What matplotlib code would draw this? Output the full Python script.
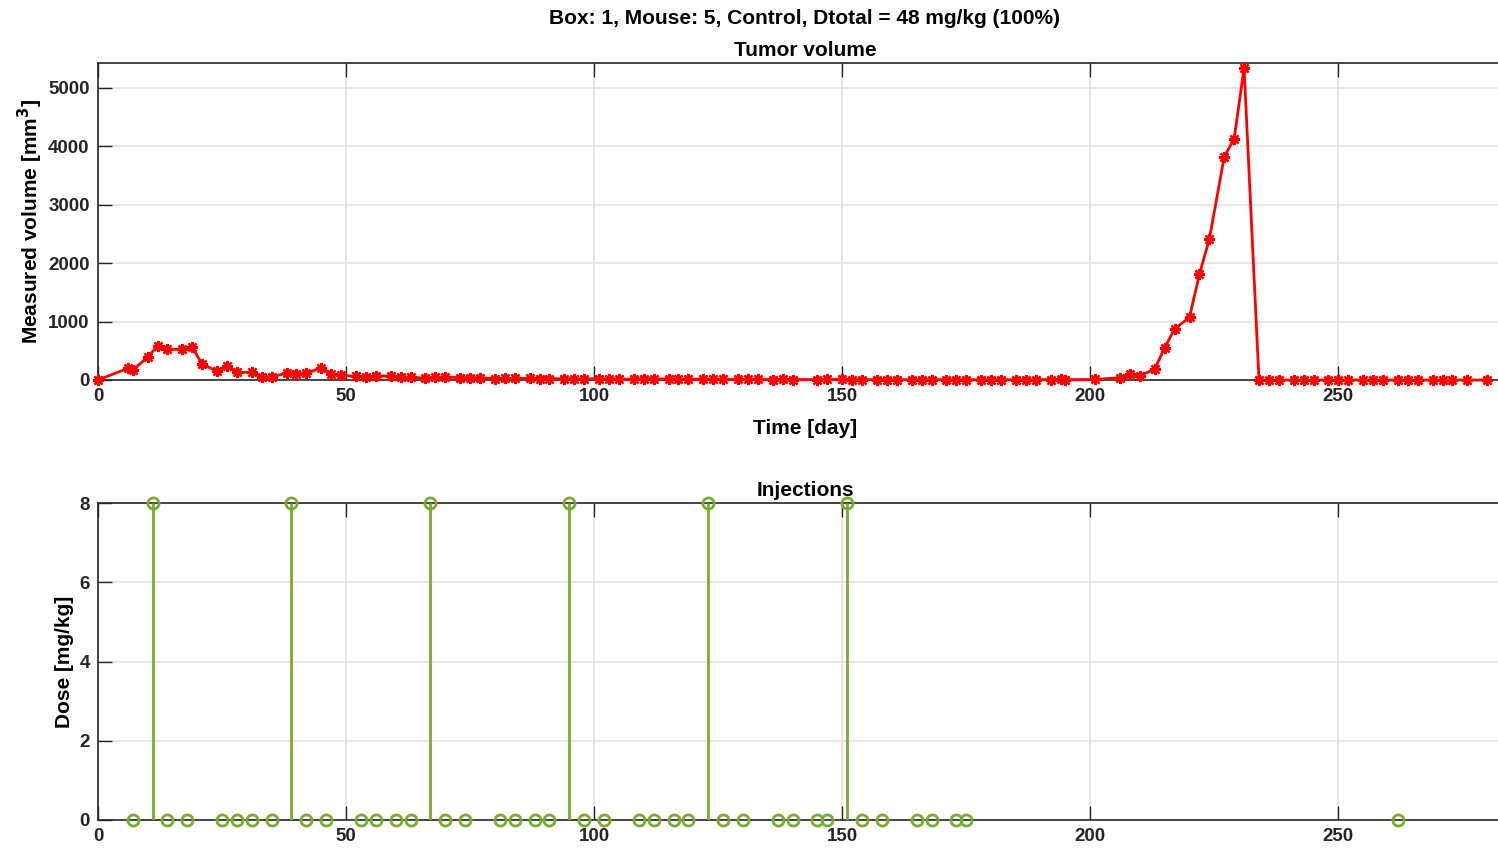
import matplotlib
matplotlib.use("Agg")
import matplotlib.pyplot as plt

plt.rcParams['font.family'] = ['Liberation Sans', 'DejaVu Sans']
plt.rcParams['font.weight'] = 'bold'
plt.rcParams['axes.labelweight'] = 'bold'
plt.rcParams['axes.titleweight'] = 'bold'

# tumor volume measurements
days_volume = [0, 6, 7, 10, 12, 14, 17, 19, 21, 24, 26, 28, 31, 33, 35, 38, 40, 42,
               45, 47, 49, 52, 54, 56, 59, 61, 63, 66, 68, 70, 73, 75, 77, 80, 82, 84,
               87, 89, 91, 94, 96, 98, 101, 103, 105, 108, 110, 112, 115, 117, 119,
               122, 124, 126, 129, 131, 133, 136, 138, 140, 145, 147, 150, 152, 154,
               157, 159, 161, 164, 166, 168, 171, 173, 175, 178, 180, 182, 185, 187,
               189, 192, 194, 195, 201, 206, 208, 210, 213, 215, 217, 220, 222, 224,
               227, 229, 231, 234, 236, 238, 241, 243, 245, 248, 250, 252, 255, 257,
               259, 262, 264, 266, 269, 271, 273, 276, 280]
volume = [0, 200, 171, 388, 582, 525, 525, 560, 268, 154, 240, 131, 131, 57, 57, 114, 100, 114,
          211, 100, 85, 60, 55, 70, 65, 55, 50, 28, 46, 50, 40, 40, 40, 23, 28, 28,
          30, 25, 25, 20, 20, 18, 20, 18, 15, 15, 25, 20, 15, 15, 12,
          15, 12, 12, 10, 12, 10, 8, 10, 8, 8, 10, 12, 8, 6,
          6, 8, 6, 6, 5, 8, 6, 5, 5, 5, 5, 5, 4, 5,
          5, 8, 10, 5, 10, 40, 97, 74, 188, 554, 873, 1074, 1810, 2409,
          3818, 4127, 5337, 0, 0, 0, 0, 0, 0, 0, 0, 0, 0, 0,
          0, 0, 0, 0, 0, 0, 0, 0, 0]

# injections
days_dose = [7, 11, 14, 18, 25, 28, 31, 35, 39, 42, 46, 53, 56, 60, 63, 67, 70, 74, 81, 84,
             88, 91, 95, 98, 102, 109, 112, 116, 119, 123, 126, 130, 137, 140, 145, 147,
             151, 154, 158, 165, 168, 173, 175, 262]
dose = [0, 8, 0, 0, 0, 0, 0, 0, 8, 0, 0, 0, 0, 0, 0, 8, 0, 0, 0, 0,
        0, 0, 8, 0, 0, 0, 0, 0, 0, 8, 0, 0, 0, 0, 0, 0,
        8, 0, 0, 0, 0, 0, 0, 0]

fig = plt.figure(figsize=(14.98, 8.5), dpi=100)
ax1 = fig.add_axes([98 / 1498, 1 - 380 / 850, 1414 / 1498, 317 / 850])
ax2 = fig.add_axes([98 / 1498, 1 - 820 / 850, 1414 / 1498, 317 / 850])

spine_col = '#262626'
for ax in (ax1, ax2):
    ax.set_xlim(0, 285)
    ax.set_xticks([0, 50, 100, 150, 200, 250])
    ax.grid(True, color='#e3e3e3', linewidth=1.2)
    ax.set_axisbelow(True)
    ax.tick_params(direction='in', length=10, width=1, colors=spine_col,
                   top=True, right=True, labelsize=13.5, pad=6)
    for s in ax.spines.values():
        s.set_color(spine_col)
        s.set_linewidth(1.2)
    for lab in ax.get_xticklabels() + ax.get_yticklabels():
        lab.set_fontweight('bold')

ax1.plot(days_volume, volume, color='#ff0000', linewidth=2,
         marker=(8, 2, 0), markersize=8, markeredgewidth=1.7, clip_on=False, zorder=3)
ax1.set_ylim(0, 5420)
ax1.set_yticks([0, 1000, 2000, 3000, 4000, 5000])
ax1.set_xlabel('Time [day]', fontsize=15, labelpad=10)
ax1.set_ylabel('Measured volume [mm$^\\mathbf{3}$]', fontsize=15, labelpad=2)
ax1.set_title('Tumor volume', fontsize=15, pad=5)
ax1.text(0.5, 1.0 + 45 / 317, 'Box: 1, Mouse: 5, Control, Dtotal = 48 mg/kg (100%)',
         transform=ax1.transAxes, ha='center', va='center', fontsize=15,
         fontweight='bold')

green = '#77ac30'
ax2.vlines(days_dose, 0, dose, color=green, linewidth=2, zorder=3)
ax2.plot(days_dose, dose, linestyle='none', marker='o', markersize=8,
         markerfacecolor='none', markeredgecolor=green, markeredgewidth=2,
         clip_on=False, zorder=4)
ax2.set_ylim(0, 8)
ax2.set_yticks([0, 2, 4, 6, 8])
ax2.set_ylabel('Dose [mg/kg]', fontsize=15, labelpad=3.5)
ax2.set_title('Injections', fontsize=15, pad=5)

fig.savefig('out.png', dpi=100)
